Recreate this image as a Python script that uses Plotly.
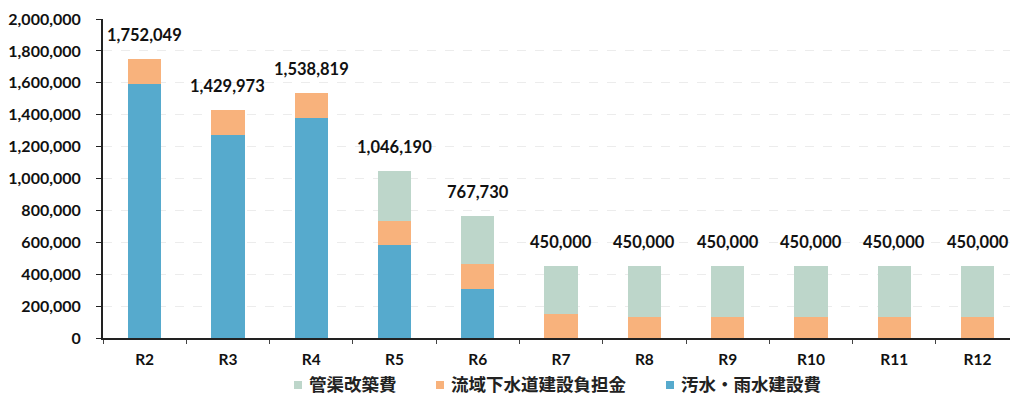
import plotly.graph_objects as go

# Fiscal years (令和)
years = ["R2", "R3", "R4", "R5", "R6", "R7", "R8", "R9", "R10", "R11", "R12"]

# 汚水・雨水建設費 (bottom segment)
sewer_rain = [1590000, 1270000, 1380000, 585000, 305000, 0, 0, 0, 0, 0, 0]
# 流域下水道建設負担金 (middle segment)
basin_share = [162049, 159973, 158819, 150000, 160000, 150000, 130000, 130000, 130000, 130000, 130000]
# 管渠改築費 (top segment)
pipe_renewal = [0, 0, 0, 311190, 302730, 300000, 320000, 320000, 320000, 320000, 320000]

# Totals shown above each bar
totals = [1752049, 1429973, 1538819, 1046190, 767730, 450000, 450000, 450000, 450000, 450000, 450000]

series_names = ["汚水・雨水建設費", "流域下水道建設負担金", "管渠改築費"]
series_colors = ["#56AACD", "#F8B27C", "#BDD6CA"]

num_font = "Lato, 'Noto Sans', sans-serif"
jp_font = "'Noto Sans CJK JP', sans-serif"

W, H = 1010, 395
ML, MR, MT, MB = 103, 0, 19, 57
plot_w = W - ML - MR
plot_h = H - MT - MB

fig = go.Figure()
for name, vals, col in zip(series_names, [sewer_rain, basin_share, pipe_renewal], series_colors):
    fig.add_trace(go.Bar(
        x=years, y=vals, name=name, showlegend=False,
        marker=dict(color=col, line=dict(width=0)),
    ))

for yr, tot in zip(years, totals):
    fig.add_annotation(
        x=yr, y=tot, text=f"{tot:,}", showarrow=False,
        yanchor="bottom", yshift=12,
        font=dict(family=num_font, size=16.5, color="#111111", weight="bold"),
    )

# Legend row below the axis, drawn as swatches + labels (top series first)
legend_x_px = [298, 440, 670]   # swatch centres in pixels
legend_y_px = 383
sw = 4                           # half swatch size in pixels
def px_x(p):
    return (p - ML) / plot_w
def px_y(p):
    return (H - MB - p) / plot_h

for i, (name, col) in enumerate(zip(series_names[::-1], series_colors[::-1])):
    cx = legend_x_px[i]
    fig.add_shape(
        type="rect", xref="paper", yref="paper",
        x0=px_x(cx - sw), x1=px_x(cx + sw),
        y0=px_y(legend_y_px + 2 + sw), y1=px_y(legend_y_px + 2 - sw),
        fillcolor=col, line=dict(width=0),
    )
    fig.add_annotation(
        xref="paper", yref="paper", x=px_x(cx + 10), y=px_y(legend_y_px),
        xanchor="left", yanchor="middle", showarrow=False, text=name,
        borderpad=0,
        font=dict(family=jp_font, size=17.5, color="#222222", weight="bold"),
    )

fig.update_layout(
    barmode="stack",
    bargap=0.6,
    width=W, height=H,
    margin=dict(l=ML, r=MR, t=MT, b=MB, autoexpand=False),
    plot_bgcolor="white", paper_bgcolor="white",
    showlegend=False,
    xaxis=dict(
        type="category", range=[-0.5, 10.39],
        showline=True, linecolor="#222222", linewidth=2,
        ticks="outside", tickson="boundaries", ticklen=4, tickcolor="#444444",
        ticklabelstandoff=6,
        tickfont=dict(family=num_font, size=15.5, color="#111111", weight="bold"),
        showgrid=False,
    ),
    yaxis=dict(
        range=[0, 2000000], dtick=200000, tickformat=",",
        showline=True, linecolor="#222222", linewidth=2,
        ticks="outside", ticklen=5, tickcolor="#222222",
        ticklabelstandoff=12,
        tickfont=dict(family=num_font, size=16, color="#111111", weight="bold"),
        showgrid=True, gridcolor="#ececec", griddash="dash", gridwidth=1,
        zeroline=False,
    ),
)

fig.write_html("out.html")
